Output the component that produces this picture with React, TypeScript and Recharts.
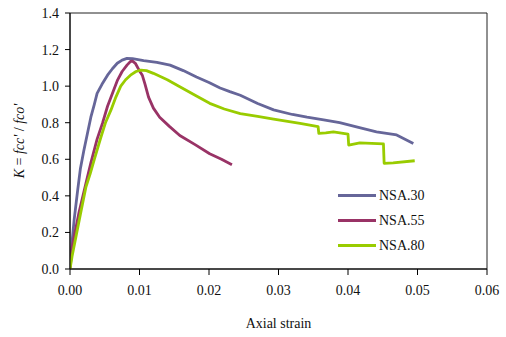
import { Legend, Line, LineChart, ReferenceArea, XAxis, YAxis } from "recharts";

const FONT = "'Liberation Serif', 'Times New Roman', serif";

const xTicks = [0, 0.01, 0.02, 0.03, 0.04, 0.05, 0.06];
const yTicks = [0, 0.2, 0.4, 0.6, 0.8, 1.0, 1.2, 1.4];

// NSA.30
const nsa30Strain = [0, 0.0003, 0.0006, 0.0011, 0.0015, 0.002, 0.0025, 0.003, 0.0035, 0.0039, 0.0046, 0.0054, 0.0061, 0.0068, 0.0075, 0.0082, 0.009, 0.0106, 0.0125, 0.0144, 0.0163, 0.0182, 0.02, 0.0216, 0.023, 0.0245, 0.027, 0.0293, 0.032, 0.0341, 0.0365, 0.0388, 0.0415, 0.0441, 0.047, 0.0494];
const nsa30K = [0, 0.15, 0.27, 0.43, 0.55, 0.65, 0.74, 0.83, 0.9, 0.96, 1.01, 1.06, 1.095, 1.125, 1.142, 1.152, 1.15, 1.14, 1.13, 1.115, 1.085, 1.05, 1.02, 0.99, 0.97, 0.95, 0.905, 0.87, 0.845, 0.83, 0.815, 0.8, 0.775, 0.75, 0.733, 0.687];

// NSA.55
const nsa55Strain = [0, 0.0003, 0.0013, 0.0023, 0.003, 0.0039, 0.0047, 0.0054, 0.0061, 0.0068, 0.0075, 0.0082, 0.0087, 0.009, 0.0094, 0.0099, 0.0104, 0.0108, 0.0113, 0.012, 0.0129, 0.0143, 0.0158, 0.018, 0.0201, 0.0218, 0.0233];
const nsa55K = [0, 0.12, 0.31, 0.47, 0.58, 0.71, 0.8, 0.89, 0.96, 1.03, 1.08, 1.115, 1.135, 1.137, 1.125, 1.09, 1.06, 1.01, 0.94, 0.88, 0.83, 0.78, 0.73, 0.68, 0.63, 0.6, 0.57];

// NSA.80
const nsa80Strain = [0, 0.0003, 0.0015, 0.0023, 0.0029, 0.0035, 0.0044, 0.0051, 0.0059, 0.0066, 0.0073, 0.008, 0.0087, 0.0095, 0.0102, 0.011, 0.012, 0.014, 0.0158, 0.018, 0.0201, 0.0222, 0.0245, 0.027, 0.0293, 0.0331, 0.0357, 0.0358, 0.0368, 0.0379, 0.04, 0.0401, 0.0417, 0.0451, 0.0452, 0.0465, 0.0496];
const nsa80K = [0, 0.07, 0.3, 0.45, 0.52, 0.6, 0.715, 0.8, 0.87, 0.94, 1.0, 1.035, 1.06, 1.08, 1.088, 1.085, 1.07, 1.035, 0.997, 0.95, 0.906, 0.875, 0.85, 0.835, 0.82, 0.797, 0.778, 0.742, 0.745, 0.75, 0.738, 0.678, 0.69, 0.684, 0.578, 0.58, 0.592];

const toPoints = (xs: number[], ks: number[]) => xs.map((strain, i) => ({ strain, k: ks[i] }));

const series = [
  { name: "NSA.30", color: "#666699", data: toPoints(nsa30Strain, nsa30K) },
  { name: "NSA.55", color: "#993366", data: toPoints(nsa55Strain, nsa55K) },
  { name: "NSA.80", color: "#99cc00", data: toPoints(nsa80Strain, nsa80K) },
];

const renderLegend = () => (
  <div style={{ fontFamily: FONT, fontSize: 14, color: "#111" }}>
    {series.map((s) => (
      <div key={s.name} style={{ display: "flex", alignItems: "center", height: 25 }}>
        <span style={{ display: "inline-block", width: 38, height: 3, background: s.color, marginRight: 3 }} />
        <span>{s.name}</span>
      </div>
    ))}
  </div>
);

const YLabel = (props: any) => {
  const vb = props.viewBox || { x: 0, y: 0, width: 70, height: 256 };
  const cx = 24;
  const cy = vb.y + vb.height / 2;
  return (
    <text
      x={cx}
      y={cy}
      transform={`rotate(-90 ${cx} ${cy})`}
      textAnchor="middle"
      fontFamily={FONT}
      fontSize={14}
      fill="#111"
    >
      <tspan fontStyle="italic">K</tspan>
      <tspan> = </tspan>
      <tspan fontStyle="italic">fcc' </tspan>
      <tspan>/ </tspan>
      <tspan fontStyle="italic">fco'</tspan>
    </text>
  );
};

export default function App() {
  return (
    <div style={{ position: "absolute", left: 0, top: 0, background: "#fff" }}>
      <LineChart width={506} height={337} margin={{ top: 13, right: 19, bottom: 0, left: 0 }}>
        <ReferenceArea x1={0} x2={0.06} y1={0} y2={1.4} fill="none" stroke="#222" strokeWidth={1} ifOverflow="visible" />
        <XAxis
          type="number"
          dataKey="strain"
          domain={[0, 0.06]}
          ticks={xTicks}
          tickFormatter={(v: number) => v.toFixed(2)}
          height={68}
          tickSize={6}
          tickMargin={10}
          stroke="#000"
          tick={{ fill: "#111", fontFamily: FONT, fontSize: 14 }}
          allowDataOverflow
          label={{ value: "Axial strain", position: "insideBottom", offset: 9, fill: "#111", fontFamily: FONT, fontSize: 14 }}
        />
        <YAxis
          type="number"
          domain={[0, 1.4]}
          ticks={yTicks}
          tickFormatter={(v: number) => v.toFixed(1)}
          width={70}
          tickSize={5}
          tickMargin={6}
          stroke="#000"
          tick={{ fill: "#111", fontFamily: FONT, fontSize: 14 }}
          allowDataOverflow
          label={<YLabel />}
        />
        {series.map((s) => (
          <Line
            key={s.name}
            data={s.data}
            dataKey="k"
            name={s.name}
            type="linear"
            stroke={s.color}
            strokeWidth={2.8}
            strokeLinejoin="round"
            dot={false}
            isAnimationActive={false}
          />
        ))}
        <Legend
          layout="vertical"
          align="center"
          verticalAlign="middle"
          content={renderLegend}
          wrapperStyle={{ left: 338, top: 183, width: 100 }}
        />
      </LineChart>
    </div>
  );
}
